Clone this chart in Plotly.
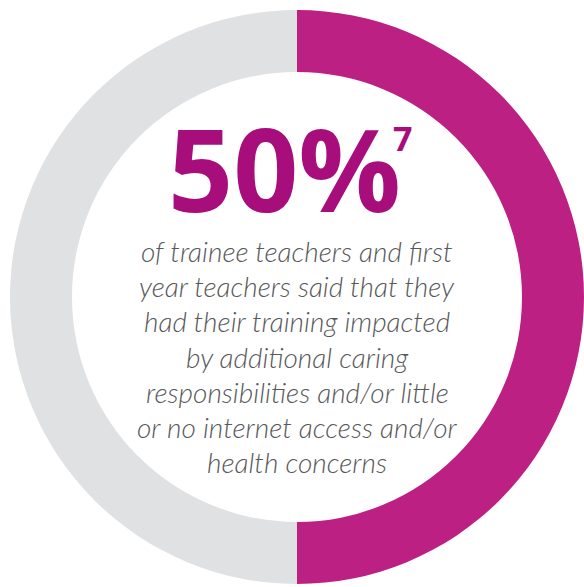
import plotly.graph_objects as go

labels = ["Impacted", "Not impacted"]
values = [50, 50]
colors = ["#BD2083", "#E0E1E3"]
headline = "50%"
footnote = "7"
lines = [
    "of trainee teachers and first",
    "year teachers said that they",
    "had their training impacted",
    "by additional caring",
    "responsibilities and/or little",
    "or no internet access and/or",
    "health concerns",
]

W, H = 584, 587
cx, cy, R = 297, 297, 287

fig = go.Figure(go.Pie(
    labels=labels, values=values, hole=225/287,
    marker=dict(colors=colors, line=dict(width=0)),
    sort=False, direction="clockwise", rotation=0,
    textinfo="none", hoverinfo="label+percent", showlegend=False,
    domain=dict(x=[(cx-R)/W, (cx+R)/W], y=[1-(cy+R)/H, 1-(cy-R)/H]),
))

ann = []
ann.append(dict(x=284/W, y=1-167/H, xref="paper", yref="paper", showarrow=False,
                text="<b>"+headline+"</b>", xanchor="center", yanchor="middle",
                font=dict(family="Open Sans", size=114, color="#A70D7B")))
ann.append(dict(x=402/W, y=1-138/H, xref="paper", yref="paper", showarrow=False,
                text="<b>"+footnote+"</b>", xanchor="center", yanchor="middle",
                font=dict(family="Open Sans", size=34, color="#A70D7B")))
y0, dy = 251, 35.2
for i, t in enumerate(lines):
    ann.append(dict(x=297/W, y=1-(y0+i*dy)/H, xref="paper", yref="paper", showarrow=False,
                    text="<i>"+t+"</i>", xanchor="center", yanchor="middle",
                    font=dict(family="Lato", size=28, color="#58595B", weight=300)))

fig.update_layout(width=W, height=H, margin=dict(l=0, r=0, t=0, b=0),
                  paper_bgcolor="white", plot_bgcolor="white", annotations=ann)
fig.write_html("out.html")
